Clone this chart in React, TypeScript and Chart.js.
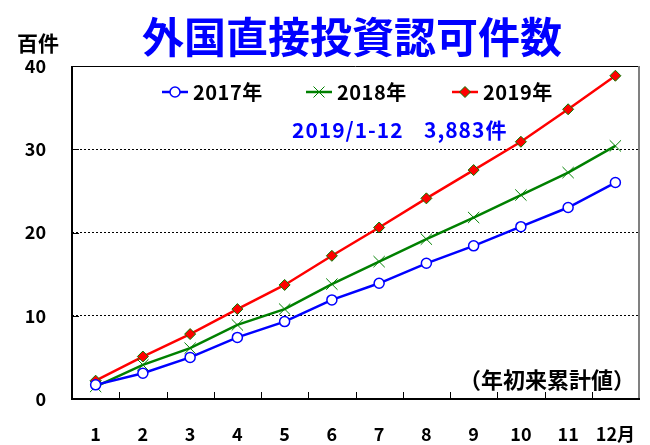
import { useEffect, useRef } from 'react';
import { Chart, registerables } from 'chart.js';
Chart.register(...registerables);

const months = ['1', '2', '3', '4', '5', '6', '7', '8', '9', '10', '11', '12月'];
const y2017 = [1.7, 3.1, 5.0, 7.4, 9.3, 11.9, 13.9, 16.3, 18.4, 20.7, 23.0, 26.0];
const y2018 = [1.5, 4.1, 6.1, 8.9, 10.8, 13.8, 16.5, 19.2, 21.8, 24.5, 27.2, 30.4];
const y2019 = [2.2, 5.1, 7.8, 10.8, 13.7, 17.2, 20.6, 24.1, 27.5, 30.9, 34.8, 38.83];
const seriesNames = ['2017年', '2018年', '2019年'];
const yTicks = [0, 10, 20, 30, 40];

const titleText = '外国直接投資認可件数';
const unitText = '百件';
const notePeriod = '2019/1-12';
const noteTotal = '3,883件';
const cumText = '（年初来累計値）';

const FONT = '"Noto Sans CJK JP", "Noto Sans", sans-serif';
const BLUE = '#0000ff';
const GREEN = '#008000';
const RED = '#ff0000';

function drawMarker(ctx: CanvasRenderingContext2D, kind: number, x: number, y: number) {
  ctx.save();
  if (kind === 0) {
    ctx.beginPath();
    ctx.arc(x, y, 5, 0, Math.PI * 2);
    ctx.fillStyle = '#fff';
    ctx.fill();
    ctx.strokeStyle = BLUE;
    ctx.lineWidth = 1.5;
    ctx.stroke();
  } else if (kind === 1) {
    const r = 5.5;
    ctx.beginPath();
    ctx.moveTo(x - r, y - r);
    ctx.lineTo(x + r, y + r);
    ctx.moveTo(x + r, y - r);
    ctx.lineTo(x - r, y + r);
    ctx.strokeStyle = GREEN;
    ctx.lineWidth = 1;
    ctx.stroke();
  } else {
    const r = 5.5;
    ctx.beginPath();
    ctx.moveTo(x, y - r);
    ctx.lineTo(x + r, y);
    ctx.lineTo(x, y + r);
    ctx.lineTo(x - r, y);
    ctx.closePath();
    ctx.fillStyle = RED;
    ctx.fill();
    ctx.strokeStyle = GREEN;
    ctx.lineWidth = 1;
    ctx.stroke();
  }
  ctx.restore();
}

const decorPlugin = {
  id: 'decor',
  beforeDatasetsDraw(chart: any) {
    const { ctx, chartArea, scales } = chart;
    const { left, right, top, bottom } = chartArea;
    ctx.save();
    ctx.strokeStyle = '#000';
    ctx.lineWidth = 1;
    const xs = scales.x;
    for (let i = 1; i < months.length; i++) {
      const px = Math.round((xs.getPixelForValue(i - 1) + xs.getPixelForValue(i)) / 2) + 0.5;
      ctx.beginPath();
      ctx.moveTo(px, bottom);
      ctx.lineTo(px, bottom - 7);
      ctx.stroke();
    }
    const ys = scales.y;
    for (const v of [10, 20, 30]) {
      const py = Math.round(ys.getPixelForValue(v)) + 0.5;
      ctx.beginPath();
      ctx.moveTo(left, py);
      ctx.lineTo(left + 7, py);
      ctx.stroke();
    }
    ctx.strokeStyle = '#000';
    ctx.lineWidth = 1;
    ctx.beginPath();
    ctx.moveTo(left, top + 0.5);
    ctx.lineTo(right, top + 0.5);
    ctx.stroke();
    ctx.strokeStyle = '#808080';
    ctx.lineWidth = 2;
    ctx.beginPath();
    ctx.moveTo(right, top);
    ctx.lineTo(right, bottom);
    ctx.stroke();
    ctx.strokeStyle = '#000';
    ctx.lineWidth = 2;
    ctx.beginPath();
    ctx.moveTo(left, top);
    ctx.lineTo(left, bottom);
    ctx.lineTo(right + 1, bottom);
    ctx.stroke();
    ctx.restore();
  },
  afterDraw(chart: any) {
    const { ctx } = chart;
    ctx.save();
    ctx.fillStyle = BLUE;
    ctx.font = `bold 42px ${FONT}`;
    ctx.textAlign = 'center';
    ctx.textBaseline = 'middle';
    ctx.fillText(titleText, 352, 37);
    ctx.fillStyle = '#000';
    ctx.font = `bold 21px ${FONT}`;
    ctx.fillText(unitText, 38, 43);
    const lx = [162, 306, 452];
    const colors = [BLUE, GREEN, RED];
    const ly = 92;
    for (let i = 0; i < 3; i++) {
      ctx.strokeStyle = colors[i];
      ctx.lineWidth = 2.5;
      ctx.beginPath();
      ctx.moveTo(lx[i], ly);
      ctx.lineTo(lx[i] + 26, ly);
      ctx.stroke();
      drawMarker(ctx, i, lx[i] + 13, ly);
      ctx.fillStyle = '#000';
      ctx.font = `bold 20px ${FONT}`;
      ctx.textAlign = 'left';
      ctx.textBaseline = 'middle';
      (ctx as any).letterSpacing = '0.5px';
      ctx.fillText(seriesNames[i], lx[i] + 31, ly);
      (ctx as any).letterSpacing = '0px';
    }
    ctx.fillStyle = BLUE;
    ctx.font = `bold 21px ${FONT}`;
    ctx.textAlign = 'left';
    (ctx as any).letterSpacing = '1px';
    ctx.fillText(notePeriod, 292, 130);
    ctx.fillText(noteTotal, 424, 130);
    (ctx as any).letterSpacing = '0px';
    ctx.fillStyle = '#000';
    ctx.font = `bold 22px ${FONT}`;
    ctx.textAlign = 'right';
    ctx.fillText(cumText, 635, 380);
    ctx.restore();
  },
};

export default function App() {
  const ref = useRef<HTMLCanvasElement>(null);
  useEffect(() => {
    if (!ref.current) return;
    const chart = new Chart(ref.current, {
      type: 'line',
      data: {
        labels: months,
        datasets: [
          {
            label: seriesNames[0],
            data: y2017,
            borderColor: BLUE,
            borderWidth: 2.5,
            pointStyle: 'circle',
            pointRadius: 5,
            pointBackgroundColor: '#fff',
            pointBorderColor: BLUE,
            pointBorderWidth: 1.5,
          },
          {
            label: seriesNames[1],
            data: y2018,
            borderColor: GREEN,
            borderWidth: 2.5,
            pointStyle: 'crossRot',
            pointRadius: 8,
            pointBorderColor: GREEN,
            pointBorderWidth: 1,
          },
          {
            label: seriesNames[2],
            data: y2019,
            borderColor: RED,
            borderWidth: 2.5,
            pointStyle: 'rectRot',
            pointRadius: 5.5,
            pointBackgroundColor: RED,
            pointBorderColor: GREEN,
            pointBorderWidth: 1,
          },
        ],
      },
      options: {
        responsive: false,
        animation: false,
        devicePixelRatio: 1,
        layout: { padding: { top: 66, right: 11, left: 0, bottom: 0 } },
        plugins: { legend: { display: false }, title: { display: false }, tooltip: { enabled: false } },
        scales: {
          x: {
            type: 'category',
            offset: true,
            grid: { display: false, drawTicks: false },
            border: { display: false },
            ticks: { color: '#000', font: { family: FONT, size: 18, weight: 'bold' }, padding: 24, maxRotation: 0, autoSkip: false },
            afterFit: (s: any) => { s.height = 46; s.paddingLeft = 0; s.paddingRight = 0; },
          },
          y: {
            min: 0,
            max: 40,
            afterBuildTicks: (s: any) => { s.ticks = yTicks.map((v) => ({ value: v })); },
            grid: {
              drawTicks: false,
              color: (c: any) => (c.tick && (c.tick.value === 0 || c.tick.value === 40) ? 'rgba(0,0,0,0)' : '#000'),
              lineWidth: 1,
            },
            border: { display: false, dash: [2, 2] },
            ticks: { color: '#000', font: { family: FONT, size: 18, weight: 'bold' }, padding: 26 },
            afterFit: (s: any) => { s.width = 72; s.paddingTop = 0; s.paddingBottom = 0; },
          },
        },
      },
      plugins: [decorPlugin],
    });
    return () => chart.destroy();
  }, []);
  return (
    <div style={{ position: 'absolute', left: 0, top: 0, width: 650, height: 445, background: '#fff' }}>
      <canvas ref={ref} width={650} height={445} />
    </div>
  );
}
